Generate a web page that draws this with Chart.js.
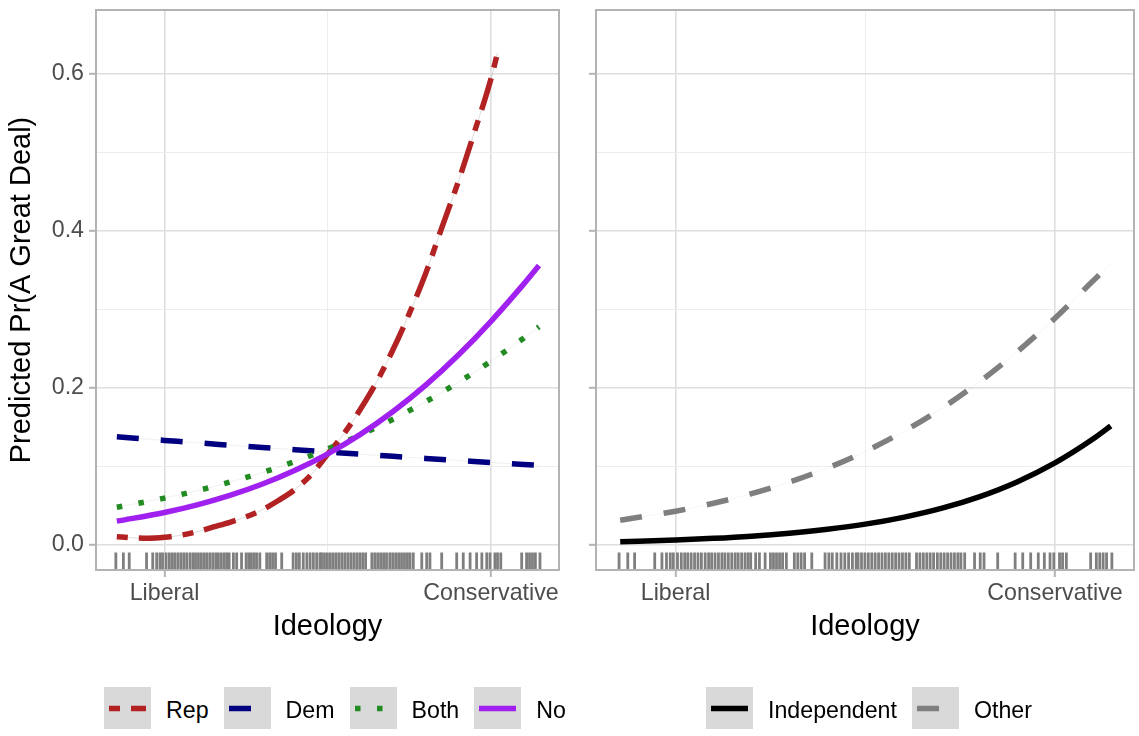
<!DOCTYPE html>
<html>
<head>
<meta charset="utf-8">
<script src="https://cdn.jsdelivr.net/npm/chart.js@4.4.1/dist/chart.umd.min.js"></script>
<style>
  body { margin: 0; background: #ffffff; }
  #wrap { position: relative; width: 1139px; height: 736px; overflow: hidden;
          font-family: "Liberation Sans", Arial, sans-serif; }
  canvas.plot { position: absolute; top: 0; }
  .legend { position: absolute; top: 687px; height: 42px; display: flex; align-items: center; }
  .legend .item { display: flex; align-items: center; margin-right: 15px; }
  .legend .item canvas { display: block; }
  .legend .txt { font-size: 23.2px; color: #000000; margin-left: 15px; line-height: 42px;
                 position: relative; top: 2px; }
</style>
</head>
<body>
<div id="wrap">
  <canvas id="leftPanel" class="plot" width="575" height="644" style="left:0px"></canvas>
  <canvas id="rightPanel" class="plot" width="564" height="644" style="left:575px"></canvas>
  <div id="legendLeft" class="legend" style="left:104px"></div>
  <div id="legendRight" class="legend" style="left:706px"></div>
</div>
<script>
// Ideology on a 0 (Liberal) to 1 (Conservative) scale
const ideology = [-0.146, 0, 0.1, 0.2, 0.3, 0.4, 0.5, 0.6, 0.7, 0.8, 0.9, 1.0, 1.1, 1.147];
const repIdeology = [-0.146, -0.1, -0.05, 0, 0.05, 0.1, 0.15, 0.2, 0.25, 0.3, 0.35, 0.4, 0.45,
                     0.5, 0.55, 0.6, 0.65, 0.7, 0.75, 0.8, 0.85, 0.9, 0.95, 1.0, 1.02];

// Predicted Pr(A Great Deal) by party identification
const repPr  = [0.0106, 0.0092, 0.0086, 0.0098, 0.0125, 0.017, 0.023, 0.029, 0.036, 0.045, 0.057, 0.071, 0.090,
                0.116, 0.142, 0.173, 0.208, 0.249, 0.295, 0.346, 0.405, 0.463, 0.527, 0.594, 0.627];
const demPr  = [0.1378, 0.1333, 0.1302, 0.1272, 0.1242, 0.1213, 0.1185, 0.1157, 0.1130, 0.1103, 0.1077, 0.1051, 0.1026, 0.1014];
const bothPr = [0.0481, 0.0598, 0.0692, 0.0801, 0.0924, 0.1065, 0.1224, 0.1402, 0.1603, 0.1826, 0.2072, 0.2342, 0.2634, 0.278];
const noPr   = [0.0304, 0.0415, 0.0512, 0.0632, 0.0777, 0.0952, 0.1161, 0.1409, 0.1700, 0.2036, 0.2420, 0.2850, 0.3323, 0.356];
const indPr  = [0.0042, 0.0064, 0.0085, 0.0113, 0.0151, 0.0201, 0.0266, 0.0353, 0.0466, 0.0614, 0.0804, 0.1046, 0.1350, 0.1517];
const otherPr = [0.0316, 0.0431, 0.0532, 0.0654, 0.0802, 0.0980, 0.1192, 0.1443, 0.1736, 0.2075, 0.2460, 0.2890, 0.3363, 0.358];

// Observed respondent ideology (rug)
const rugIdeology = [-0.149, -0.126, -0.108, -0.055, -0.036, -0.024, -0.014, -0.006, 0.005, 0.015, 0.024, 0.032,
  0.041, 0.050, 0.059, 0.068, 0.078, 0.087, 0.095, 0.104, 0.113, 0.122, 0.130, 0.139, 0.148, 0.157, 0.165,
  0.174, 0.183, 0.191, 0.198, 0.211, 0.221, 0.236, 0.250, 0.258, 0.266, 0.274, 0.282, 0.292, 0.313, 0.322,
  0.331, 0.340, 0.359, 0.394, 0.404, 0.413, 0.425, 0.436, 0.446, 0.456, 0.466, 0.476, 0.481, 0.490, 0.499,
  0.508, 0.517, 0.526, 0.535, 0.544, 0.553, 0.562, 0.571, 0.580, 0.589, 0.598, 0.607, 0.616, 0.635, 0.644,
  0.653, 0.662, 0.671, 0.680, 0.690, 0.699, 0.708, 0.717, 0.726, 0.735, 0.744, 0.752, 0.762, 0.788, 0.803,
  0.813, 0.849, 0.895, 0.915, 0.936, 0.956, 0.972, 0.987, 0.997, 1.012, 1.020, 1.030, 1.094, 1.109, 1.118,
  1.127, 1.136, 1.150];

// Axis breaks and labels
const xBreaks = [0, 1];
const xBreakLabels = ['Liberal', 'Conservative'];
const xMinorBreaks = [0.5];
const yBreaks = [0, 0.2, 0.4, 0.6];
const yBreakLabels = ['0.0', '0.2', '0.4', '0.6'];
const yMinorBreaks = [0.1, 0.3, 0.5];

const X_RANGE = [-0.2098, 1.2083];
const Y_RANGE = [-0.0318, 0.6815];
const FONT = '"Liberation Sans", Arial, sans-serif';
const U = 5.5; // line width; dash units scale with it

const styles = {
  Rep:         { color: '#B22222', dash: [2 * U, 2 * U, 6 * U, 2 * U], under: 'rgba(0,0,0,0.14)' },
  Dem:         { color: '#000080', dash: [4 * U, 4 * U], under: 'rgba(0,0,0,0.06)' },
  Both:        { color: '#228B22', dash: [1 * U, 3 * U], under: 'rgba(0,0,0,0.06)' },
  No:          { color: '#A020F0', dash: [] },
  Independent: { color: '#000000', dash: [] },
  Other:       { color: '#7F7F7F', dash: [4 * U, 4 * U], under: 'rgba(0,0,0,0.04)' }
};

function points(xs, ys) { return xs.map((x, i) => ({ x: x, y: ys[i] })); }

function lineSet(name, xs, ys, order) {
  const s = styles[name];
  return {
    label: name, data: points(xs, ys), borderColor: s.color, borderWidth: U,
    borderDash: s.dash, borderCapStyle: 'butt', borderJoinStyle: 'round',
    pointRadius: 0, fill: false, cubicInterpolationMode: 'monotone', order: order
  };
}
function underSet(name, xs, ys) {
  return {
    label: name + '_under', data: points(xs, ys), borderColor: styles[name].under, borderWidth: 1,
    pointRadius: 0, fill: false, cubicInterpolationMode: 'monotone', order: 20
  };
}

// rug along the bottom edge and the panel frame on top of everything
const panelFrame = {
  id: 'panelFrame',
  beforeDatasetsDraw(chart, args, opts) {
    const { ctx, chartArea: a, scales: { x } } = chart;
    ctx.save();
    ctx.strokeStyle = '#7F7F7F';
    ctx.lineWidth = 2.8;
    (opts.rug || []).forEach(v => {
      const px = x.getPixelForValue(v);
      ctx.beginPath();
      ctx.moveTo(px, a.bottom);
      ctx.lineTo(px, a.bottom - 17.5);
      ctx.stroke();
    });
    ctx.restore();
  },
  afterDatasetsDraw(chart) {
    const { ctx, chartArea: a } = chart;
    ctx.save();
    ctx.strokeStyle = '#B3B3B3';
    ctx.lineWidth = 2;
    ctx.strokeRect(a.left, a.top, a.right - a.left, a.bottom - a.top);
    ctx.restore();
  }
};

function isIn(list, v) { return list.some(b => Math.abs(b - v) < 1e-9); }

function makeScales(showY, yWidth) {
  const yTicks = yBreaks.concat(yMinorBreaks).sort((a, b) => a - b);
  const xTicks = xBreaks.concat(xMinorBreaks).sort((a, b) => a - b);
  const gridColor = (major) => (c) => (c.tick && isIn(major, c.tick.value)) ? '#DEDEDE' : '#EBEBEB';
  const gridWidth = (major) => (c) => (c.tick && isIn(major, c.tick.value)) ? 1.6 : 0.9;
  const tickCol = (major) => (c) => (c.tick && isIn(major, c.tick.value)) ? '#B3B3B3' : 'rgba(0,0,0,0)';
  return {
    x: {
      type: 'linear', min: X_RANGE[0], max: X_RANGE[1],
      afterBuildTicks: (s) => { s.ticks = xTicks.map(v => ({ value: v })); },
      afterFit: (s) => { s.height = 74; s.paddingLeft = 0; s.paddingRight = 0; },
      ticks: {
        autoSkip: false, maxRotation: 0, padding: 3, color: '#4D4D4D',
        font: { family: FONT, size: 23.2 },
        callback: (v) => { const i = xBreaks.findIndex(b => Math.abs(b - v) < 1e-9); return i >= 0 ? xBreakLabels[i] : ''; }
      },
      grid: { color: gridColor(xBreaks), lineWidth: gridWidth(xBreaks), tickColor: tickCol(xBreaks),
              tickLength: 7, tickWidth: 2 },
      border: { display: false },
      title: { display: true, text: 'Ideology', color: '#000000', font: { family: FONT, size: 29 },
               padding: { top: 0, bottom: 0 } }
    },
    y: {
      type: 'linear', min: Y_RANGE[0], max: Y_RANGE[1],
      afterBuildTicks: (s) => { s.ticks = yTicks.map(v => ({ value: v })); },
      afterFit: (s) => { s.width = yWidth; s.paddingTop = 0; s.paddingBottom = 0; },
      ticks: {
        padding: 5, color: '#4D4D4D', font: { family: FONT, size: 23.2 },
        callback: (v) => {
          if (!showY) return '';
          const i = yBreaks.findIndex(b => Math.abs(b - v) < 1e-9); return i >= 0 ? yBreakLabels[i] : '';
        }
      },
      grid: { color: gridColor(yBreaks), lineWidth: gridWidth(yBreaks), tickColor: tickCol(yBreaks),
              tickLength: 7, tickWidth: 2 },
      border: { display: false },
      title: { display: showY, text: 'Predicted Pr(A Great Deal)', color: '#000000',
               font: { family: FONT, size: 29 }, padding: { top: 5, bottom: 0 } }
    }
  };
}

function baseOptions(showY, yWidth, pad) {
  return {
    responsive: false, animation: false, events: [], devicePixelRatio: 1,
    layout: { padding: pad },
    plugins: { legend: { display: false }, tooltip: { enabled: false }, panelFrame: { rug: rugIdeology } },
    scales: makeScales(showY, yWidth)
  };
}

new Chart(document.getElementById('leftPanel'), {
  type: 'line',
  data: {
    datasets: [
      lineSet('No', ideology, noPr, 1),
      lineSet('Both', ideology, bothPr, 2),
      lineSet('Dem', ideology, demPr, 3),
      lineSet('Rep', repIdeology, repPr, 4),
      underSet('Both', ideology, bothPr),
      underSet('Dem', ideology, demPr),
      underSet('Rep', repIdeology, repPr)
    ]
  },
  options: baseOptions(true, 96, { top: 10, right: 16, bottom: 0, left: 0 }),
  plugins: [panelFrame]
});

new Chart(document.getElementById('rightPanel'), {
  type: 'line',
  data: {
    datasets: [
      lineSet('Other', ideology, otherPr, 1),
      lineSet('Independent', ideology, indPr, 2),
      underSet('Other', ideology, otherPr)
    ]
  },
  options: baseOptions(false, 21, { top: 10, right: 5, bottom: 0, left: 0 }),
  plugins: [panelFrame]
});

// legends: grey key box with a line sample, then the label
function buildLegend(el, names) {
  names.forEach(name => {
    const s = styles[name];
    const item = document.createElement('div');
    item.className = 'item';
    const key = document.createElement('canvas');
    key.width = 47; key.height = 42;
    const c = key.getContext('2d');
    c.fillStyle = '#D9D9D9';
    c.fillRect(0, 0, 47, 42);
    c.strokeStyle = s.color;
    c.lineWidth = U;
    c.lineCap = 'butt';
    c.setLineDash(s.dash);
    c.beginPath();
    c.moveTo(5, 21.5);
    c.lineTo(42, 21.5);
    c.stroke();
    const txt = document.createElement('span');
    txt.className = 'txt';
    txt.textContent = name;
    item.appendChild(key);
    item.appendChild(txt);
    el.appendChild(item);
  });
}
buildLegend(document.getElementById('legendLeft'), ['Rep', 'Dem', 'Both', 'No']);
buildLegend(document.getElementById('legendRight'), ['Independent', 'Other']);
</script>
</body>
</html>
